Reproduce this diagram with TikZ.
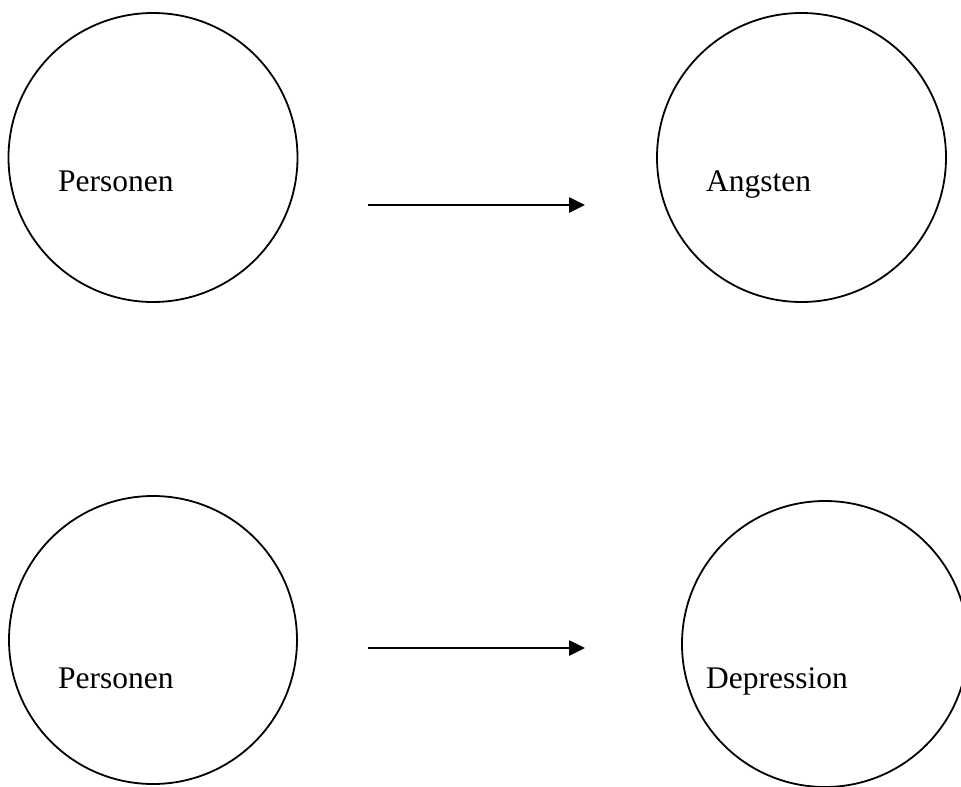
\documentclass[tikz,border=0pt]{standalone}
\usepackage{fontspec}
\setmainfont{Liberation Serif}
\usetikzlibrary{arrows.meta}
\begin{document}
\begin{tikzpicture}[x=1pt,y=-1pt,
  bubble/.style={circle,draw,line width=1.8pt,minimum size=#1,inner sep=0pt},
  caption/.style={anchor=base west,inner sep=0pt,font=\fontsize{31.5}{36}\selectfont},
  link/.style={line width=2.6pt,-{Triangle[length=16pt,width=15pt]}}]
  \useasboundingbox (0,0) rectangle (961,787);
  \clip (0,0) rectangle (961,787);
  \fill[white] (0,0) rectangle (961,787);
  % circles
  \node[bubble=289pt] (p1) at (153,157.5) {};
  \node[bubble=289pt] (a1) at (801.5,157.5) {};
  \node[bubble=288pt] (p2) at (153,640) {};
  \node[bubble=286pt] (d2) at (825,644) {};
  % labels
  \node[caption] (tp1) at (58,191) {Personen};
  \node[caption] (ta1) at (706,191) {Angsten};
  \node[caption] (tp2) at (58,688) {Personen};
  \node[caption] (td2) at (706,688) {Depression};
  % arrows
  \coordinate (s1) at (368,205);
  \coordinate (e1) at (585,205);
  \coordinate (s2) at (368,648);
  \coordinate (e2) at (585,648);
  \draw[link] (s1) -- (e1);
  \draw[link] (s2) -- (e2);
\end{tikzpicture}
\end{document}
